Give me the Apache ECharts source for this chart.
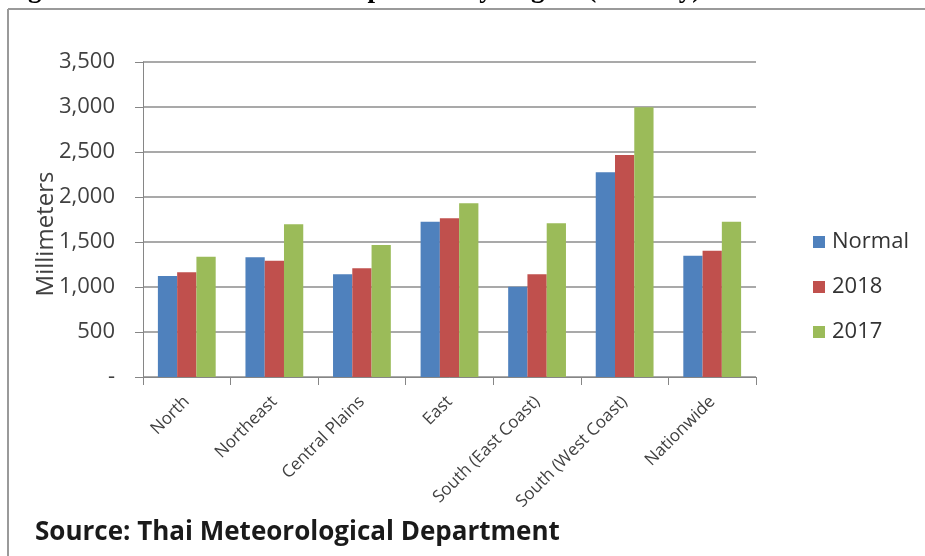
<!DOCTYPE html>
<html>
<head>
<meta charset="utf-8">
<script src="https://cdn.jsdelivr.net/npm/echarts@6/dist/echarts.min.js"></script>
<style>
html, body { margin: 0; padding: 0; background: #ffffff; }
#main { width: 925px; height: 556px; }
</style>
</head>
<body>
<div id="main"></div>
<script>
// regions on the x axis
var regions = ['North', 'Northeast', 'Central Plains', 'East', 'South (East Coast)', 'South (West Coast)', 'Nationwide'];
// rainfall in millimeters
var normalValues = [1122, 1330, 1141, 1726, 1004, 2274, 1348];
var values2018 = [1163, 1293, 1207, 1763, 1141, 2467, 1404];
var values2017 = [1337, 1696, 1467, 1930, 1707, 2996, 1726];
var seriesNames = ['Normal', '2018', '2017'];
var seriesColors = ['#4F81BD', '#C0504D', '#9BBB59'];

var labelFont = '"Open Sans", "DejaVu Sans", sans-serif';

var makeBar = function(name, data, color) {
	return {
		name: name,
		type: 'bar',
		barGap: '0%',
		barCategoryGap: '34%',
		itemStyle: { color: color },
		data: data
	};
};

var myChart = echarts.init(document.getElementById('main'));
var option = {
	animation: false,
	backgroundColor: '#ffffff',
	graphic: [
		// frame of the pasted chart
		{ type: 'line', shape: { x1: 8, y1: 9, x2: 925, y2: 9 }, style: { stroke: '#9a9a9a', lineWidth: 2 } },
		{ type: 'line', shape: { x1: 8, y1: 9, x2: 8, y2: 556 }, style: { stroke: '#9a9a9a', lineWidth: 2 } },
		// cut-off caption above the frame
		{
			type: 'text', left: 4, top: -23,
			style: {
				text: 'Figure 2: Annual Rainfall Precipitation by Region (January)',
				font: 'bold 27px "Liberation Serif", serif',
				fill: '#000000'
			}
		},
		// y axis title
		{
			type: 'text', x: 46, y: 234, rotation: Math.PI / 2,
			style: {
				text: 'Millimeters',
				font: '24px ' + labelFont,
				fill: '#404040',
				align: 'center',
				verticalAlign: 'middle'
			}
		},
		{
			type: 'text', left: 35, top: 520,
			style: {
				text: 'Source: Thai Meteorological Department',
				font: 'bold 26px ' + labelFont,
				fill: '#1a1a1a'
			}
		}
	],
	legend: {
		orient: 'vertical',
		left: 808,
		top: 226,
		itemWidth: 12,
		itemHeight: 12,
		itemGap: 23,
		icon: 'rect',
		textStyle: { fontSize: 22, fontFamily: labelFont, color: '#333333', padding: [0, 0, 0, 2] },
		data: seriesNames
	},
	grid: { left: 143, right: 169, top: 62, bottom: 179 },
	xAxis: {
		type: 'category',
		data: regions,
		axisLine: { lineStyle: { color: '#868686', width: 1 } },
		axisTick: { show: true, length: 8, lineStyle: { color: '#868686' } },
		axisLabel: {
			rotate: 45,
			margin: 22,
			fontSize: 17,
			fontFamily: labelFont,
			color: '#404040',
			interval: 0
		}
	},
	yAxis: {
		type: 'value',
		min: 0,
		max: 3500,
		interval: 500,
		axisLine: { show: true, lineStyle: { color: '#868686' } },
		axisTick: { show: true, inside: false, length: 8, lineStyle: { color: '#868686' } },
		splitLine: { lineStyle: { color: '#8c8c8c', width: 1.5 } },
		axisLabel: {
			margin: 28,
			fontSize: 22,
			fontFamily: labelFont,
			color: '#404040',
			formatter: function(v) {
				if (v == 0) {
					return '-';
				}
				return v.toLocaleString('en-US');
			}
		}
	},
	series: [
		makeBar(seriesNames[0], normalValues, seriesColors[0]),
		makeBar(seriesNames[1], values2018, seriesColors[1]),
		makeBar(seriesNames[2], values2017, seriesColors[2])
	]
};
myChart.setOption(option);
</script>
</body>
</html>
